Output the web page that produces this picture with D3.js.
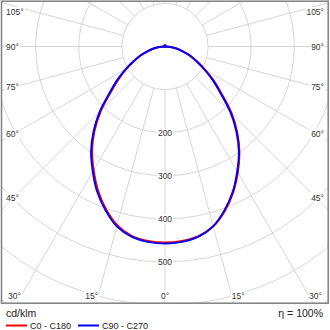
<!DOCTYPE html>
<html><head><meta charset="utf-8">
<script src="https://cdn.jsdelivr.net/npm/d3@7"></script>
<style>html,body{margin:0;padding:0;background:#fff;}svg{display:block;}</style>
</head><body>
<svg id="c" width="330" height="330"></svg>
<script>
// ---- data ----
const gammas = [0,5,10,15,20,25,30,35,40,45,50,55,60,65,70,75,80,85,90];
const c0   = [455,453,447,432,406,374,338,301,261,218,172,138,107,82,62,42,27,13,0];
const c180 = [455,453,446,429,401,368,331,295,254,210,164,131,103,79,59,40,26,13,0];
const c90  = [457,455,448,432,404,372,335,299,258,214,168,135,105,80,61,41,27,13,0];
const c270 = [457,455,448,432,404,372,335,299,258,214,168,135,105,80,61,41,27,13,0];
const ringValues = [100,200,300,400,500,600,700];
const ringLabels = [200,300,400,500];
const spokeAngles = d3.range(0,360,15);
const angleLabels = [0,15,30,45,60,75,90,105];
const seriesNames = ["C0 - C180","C90 - C270"];
const seriesColors = ["#ff0000","#0000ff"];
const unitLabel = "cd/klm";
const etaLabel = "\u03b7 = 100%";

// ---- layout ----
const svg = d3.select("#c");
const frame = {x0:1.5, y0:1.2, x1:328.2, y1:303.2};
const cx = 165, cy = 46.5;
const r = d3.scaleLinear().domain([0,100]).range([0,43.1]);
const font = "'Liberation Sans', Arial, sans-serif";

svg.append("defs").append("clipPath").attr("id","clip")
  .append("rect").attr("x",frame.x0).attr("y",frame.y0)
  .attr("width",frame.x1-frame.x0).attr("height",frame.y1-frame.y0);

const g = svg.append("g").attr("clip-path","url(#clip)");
const grid = g.append("g").attr("fill","none").attr("stroke","#d6d6d6").attr("stroke-width",1);

grid.selectAll("circle").data(ringValues).join("circle")
  .attr("cx",cx).attr("cy",cy).attr("r",d=>r(d));

const rad = a => a*Math.PI/180;
grid.selectAll("line").data(spokeAngles).join("line")
  .attr("x1",a=>cx+r(100)*Math.sin(rad(a))).attr("y1",a=>cy+r(100)*Math.cos(rad(a)))
  .attr("x2",a=>cx+r(900)*Math.sin(rad(a))).attr("y2",a=>cy+r(900)*Math.cos(rad(a)));

// ring labels
const rl = g.append("g").attr("font-family",font).attr("font-size",8.5).attr("fill","#333");
ringLabels.forEach(v=>{
  const y = cy + r(v);
  rl.append("rect").attr("x",cx-8.5).attr("y",y-4.5).attr("width",17).attr("height",9).attr("fill","#fff");
  rl.append("text").attr("x",cx).attr("y",y).attr("text-anchor","middle")
    .attr("dominant-baseline","central").text(v);
});

// angle labels
const al = g.append("g").attr("font-family",font).attr("font-size",8.5).attr("fill","#333");
const inset = {l:14, r:316, t:12, b:296};
function placeLabel(gam, s){
  const dx = s*Math.sin(rad(gam)), dy = Math.cos(rad(gam));
  let x,y,anchor;
  if (gam < 40){
    const t = (inset.b - cy)/dy;
    x = cx + t*dx; y = inset.b;
    anchor = gam===0 ? "middle" : (s<0 ? "end" : "start");
  } else {
    const xe = s<0 ? inset.l : inset.r;
    const t = (xe - cx)/dx;
    y = Math.max(inset.t, cy + t*dy);
    x = s<0 ? 6 : 324;
    anchor = s<0 ? "start" : "end";
  }
  const t = al.append("text").attr("x",x).attr("y",y).attr("text-anchor",anchor)
    .attr("dominant-baseline","central").text(gam+"\u00b0");
  const bb = t.node().getBBox();
  al.insert("rect","text").attr("x",bb.x-1).attr("y",bb.y).attr("width",bb.width+2)
    .attr("height",bb.height).attr("fill","#fff");
}
angleLabels.forEach(a=>{ if(a===0) placeLabel(0,1); else { placeLabel(a,-1); placeLabel(a,1);} });
al.selectAll("text").raise();

// curves
function curvePoints(left,right){
  const pts = [];
  for (let i=gammas.length-1;i>=0;i--) pts.push([Math.PI+rad(gammas[i]), r(left[i])]);
  for (let i=1;i<gammas.length;i++) pts.push([Math.PI-rad(gammas[i]), r(right[i])]);
  return pts;
}
const line = d3.lineRadial().angle(d=>d[0]).radius(d=>d[1]).curve(d3.curveCatmullRom);
const cg = g.append("g").attr("transform",`translate(${cx},${cy})`);
cg.append("path").attr("d",line(curvePoints(c180,c0))).attr("fill","none")
  .attr("stroke",seriesColors[0]).attr("stroke-width",2);
cg.append("path").attr("d",line(curvePoints(c270,c90))).attr("fill","none")
  .attr("stroke",seriesColors[1]).attr("stroke-width",2);
cg.append("circle").attr("cx",0).attr("cy",-1).attr("r",1.5).attr("fill",seriesColors[1]);

// frame
svg.append("rect").attr("x",frame.x0).attr("y",frame.y0)
  .attr("width",frame.x1-frame.x0).attr("height",frame.y1-frame.y0)
  .attr("fill","none").attr("stroke","#808080").attr("stroke-width",1.5);

// legend
svg.append("text").attr("x",6).attr("y",317).attr("font-family",font).attr("font-size",10.5)
  .attr("fill","#222").text(unitLabel);
const lg = svg.append("g").attr("font-family",font).attr("font-size",9).attr("fill","#222");
const legX = [6, 78];
seriesNames.forEach((n,i)=>{
  lg.append("line").attr("x1",legX[i]).attr("x2",legX[i]+21).attr("y1",325.5).attr("y2",325.5)
    .attr("stroke",seriesColors[i]).attr("stroke-width",2);
  lg.append("text").attr("x",legX[i]+24).attr("y",325.5).attr("dominant-baseline","central").text(n);
});
svg.append("text").attr("x",323).attr("y",317).attr("text-anchor","end").attr("font-family",font)
  .attr("font-size",10.5).attr("fill","#222").text(etaLabel);
</script>
</body></html>
